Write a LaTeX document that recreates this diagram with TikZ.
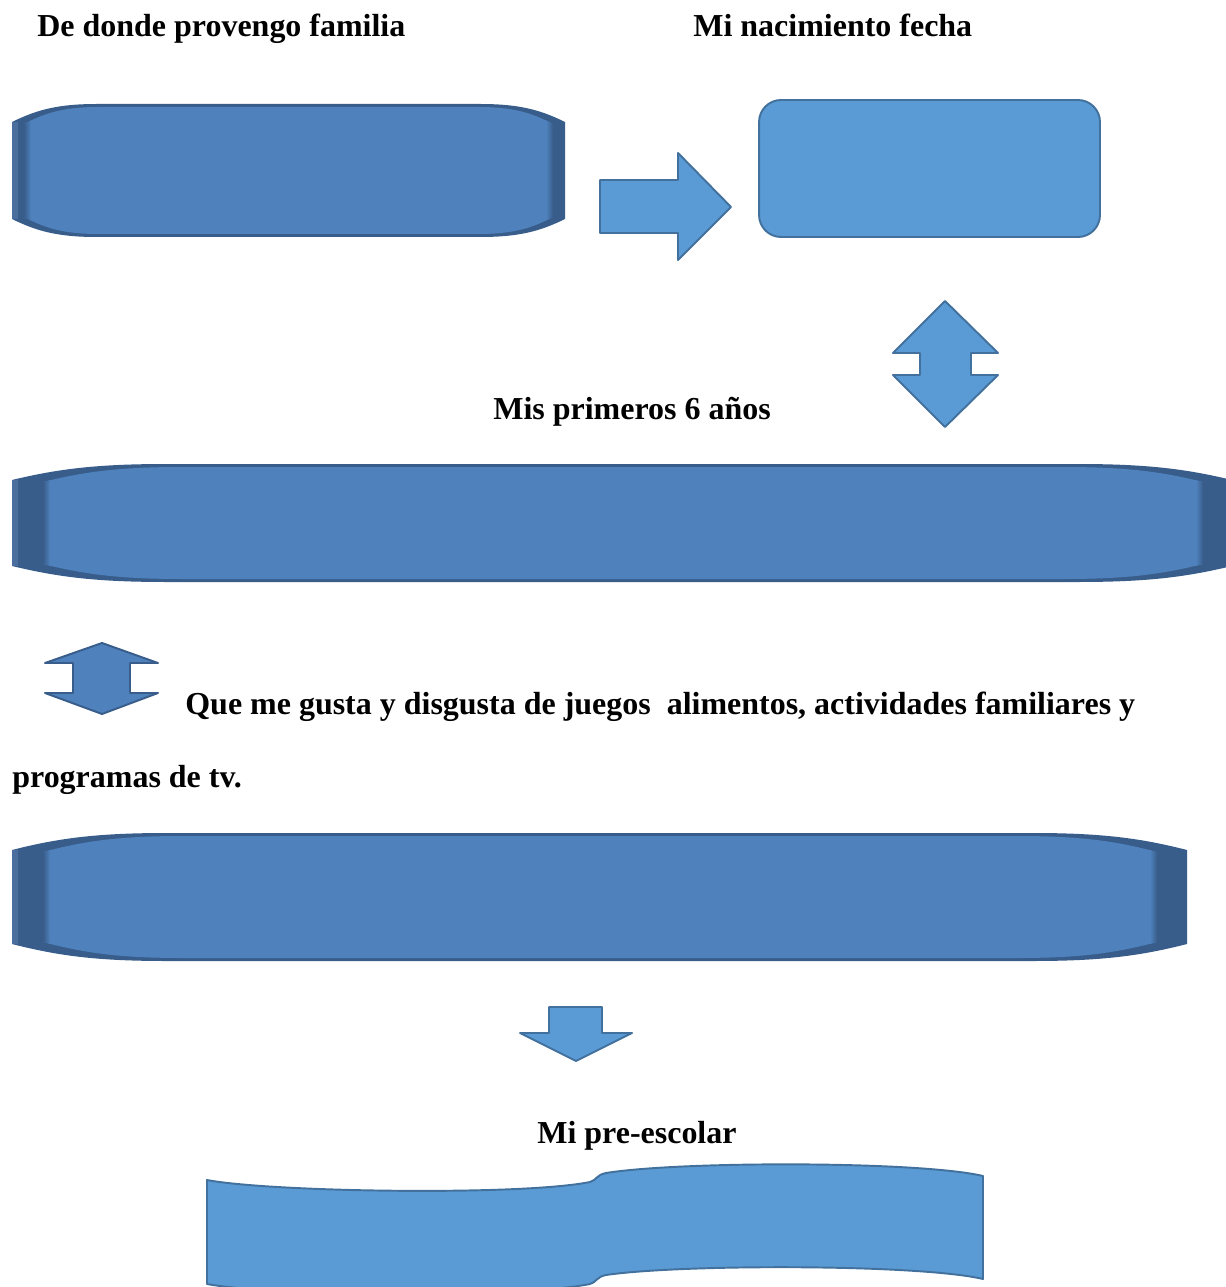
\documentclass[tikz,border=0pt]{standalone}
\usepackage{fontspec}
\setmainfont{Liberation Serif}
\definecolor{mainblue}{HTML}{4F81BD}
\definecolor{darkblue}{HTML}{385D8A}
\definecolor{edgeblue}{HTML}{4A6E9E}
\definecolor{lightblue}{HTML}{5B9BD5}
\definecolor{lightborder}{HTML}{41719C}
\newcommand\bevelpath[6]{({#1},{#2+#6}) .. controls ({#1+0.3*#5},{#2+0.3*#6}) and ({#1+0.55*#5},{#2}) .. ({#1+#5},{#2})
    -- ({#3-#5},{#2}) .. controls ({#3-0.55*#5},{#2}) and ({#3-0.3*#5},{#2+0.3*#6}) .. ({#3},{#2+#6})
    -- ({#3},{#4-#6}) .. controls ({#3-0.3*#5},{#4-0.3*#6}) and ({#3-0.55*#5},{#4}) .. ({#3-#5},{#4})
    -- ({#1+#5},{#4}) .. controls ({#1+0.55*#5},{#4}) and ({#1+0.3*#5},{#4-0.3*#6}) .. ({#1},{#4-#6}) -- cycle}
% outer x1 y1 x2 y2 cx cy | inner x1 x2 cx
\newcommand\bevelbox[9]{%
  \fill[darkblue] \bevelpath{#1}{#2}{#3}{#4}{#5}{#6};
  \fill[edgeblue] ({#1},{#2+#6}) rectangle ({#1+6},{#4-#6});
  \begin{scope}
    \clip \bevelpath{#7}{(#2+3)}{#8}{(#4-3)}{#9}{(#6-1)};
    \fill[mainblue] ({#7},{#2}) rectangle ({#8},{#4});
    \shade[left color=darkblue, right color=mainblue] ({#7},{#2}) rectangle ({#7+7},{#4});
    \shade[left color=mainblue, right color=darkblue] ({#8-7},{#2}) rectangle ({#8},{#4});
  \end{scope}}
\begin{document}
\begin{tikzpicture}[x=0.02cm,y=-0.02cm,
  lbl/.style={font=\bfseries\fontsize{18.2}{22}\selectfont, inner sep=0pt, anchor=base west},
  lightshape/.style={fill=lightblue, draw=lightborder, line width=1.1pt, line join=round},
  darkshape/.style={fill=mainblue, draw=darkblue, line width=1.1pt, line join=round}]
\useasboundingbox (0,0) rectangle (1226,1287);
\fill[white] (0,0) rectangle (1226,1287);

% bevel box 1
\bevelbox{12}{104}{565}{237}{85}{18}{24}{553}{75}
\coordinate (box1) at (288,170);

% rounded box
\node[lightshape, rounded corners=0.44cm, minimum width=6.82cm, minimum height=2.74cm, inner sep=0pt] (fecha) at (929.5,168.5) {};

% right arrow
\draw[lightshape] (600,180) -- (678,180) -- (678,153) -- (731,207) -- (678,260) -- (678,233) -- (600,233) -- cycle;

% up-down arrow 1
\draw[lightshape] (945,301) -- (998,353) -- (971,353) -- (971,375) -- (998,375) -- (945,427) -- (893,375) -- (920,375) -- (920,353) -- (893,353) -- cycle;

% bevel box 2
\bevelbox{12}{464}{1232}{582}{155}{16}{43}{1203}{140}
\coordinate (box2) at (620,523);

% small up-down arrow
\draw[darkshape] (102,643) -- (158,663) -- (130,663) -- (130,693) -- (158,693) -- (102,714) -- (45,693) -- (73,693) -- (73,663) -- (45,663) -- cycle;

% bevel box 3
\bevelbox{12}{833}{1187}{961}{155}{17}{43}{1157}{140}
\coordinate (box3) at (600,897);

% down arrow
\draw[lightshape] (549,1007) -- (602,1007) -- (602,1033) -- (632,1033) -- (576,1061) -- (520,1033) -- (549,1033) -- cycle;

% wave
\draw[lightshape] (207,1180) .. controls (270,1192) and (520,1196) .. (590,1182)
  .. controls (597,1180) and (596,1175) .. (606,1173)
  .. controls (680,1161) and (920,1161) .. (983,1176) -- (983,1279)
  .. controls (920,1264) and (680,1264) .. (606,1275)
  .. controls (596,1277) and (597,1282) .. (590,1284)
  .. controls (520,1298) and (270,1296) .. (207,1284) -- cycle;

% labels
\node[lbl] (t1) at (37,37) {De donde provengo familia};
\node[lbl] (t2) at (693,37) {Mi nacimiento fecha};
\node[lbl] (t3) at (493,419) {Mis primeros 6 años};
\node[lbl] (t4) at (185,714) {Que me gusta y disgusta de juegos~ alimentos, actividades familiares y};
\node[lbl] (t5) at (12,787) {programas de tv.};
\node[lbl] (t6) at (537,1143) {Mi pre-escolar};
\end{tikzpicture}
\end{document}
